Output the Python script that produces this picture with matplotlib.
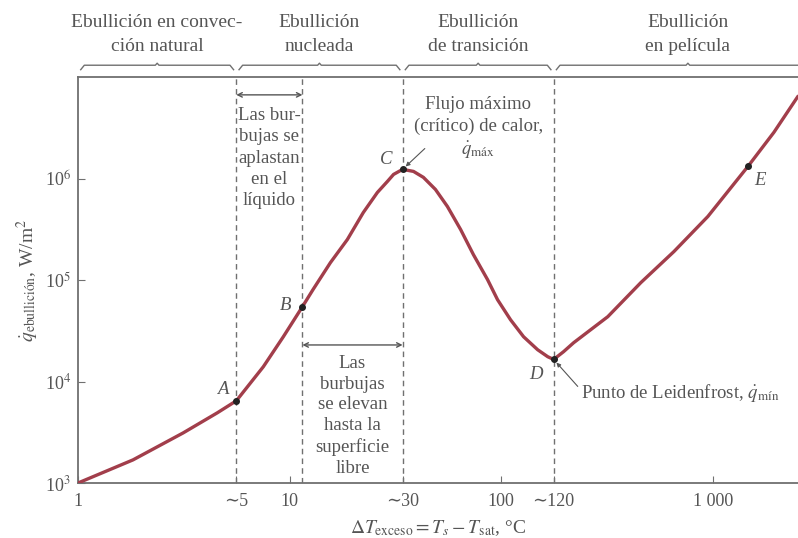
import matplotlib
matplotlib.use("Agg")
import matplotlib.pyplot as plt
from matplotlib.transforms import blended_transform_factory

plt.rcParams['font.family'] = ['Liberation Serif', 'DejaVu Serif']
plt.rcParams['mathtext.fontset'] = 'stix'

# ---- data (boiling curve, log-log) ----
dT = [1.0, 1.82, 3.14, 4.55, 5.6, 7.51, 9.34, 11.5, 12.9, 15.6, 18.75, 22.3,
      26.0, 29.0, 31.0, 34.2, 38.5, 42.9, 48.9, 55.7, 64.3, 73.9, 86.2, 96.1,
      110.7, 127.6, 148.7, 166, 177, 197, 220, 265, 319, 457, 655, 948, 1466,
      1945, 2528]
q = [1000, 1690, 3115, 4910, 6450, 13960, 27600, 54600, 80400, 148500,
     250500, 462000, 729000, 936000, 1.097e6, 1.23e6, 1.175e6, 1.026e6,
     780000, 530000, 314500, 178000, 100900, 64000, 40600, 27600, 20560,
     17540, 16500, 19640, 24100, 32400, 43500, 94200, 190500, 422600,
     1.315e6, 2.85e6, 6.46e6]

point_names = ['A', 'B', 'C', 'D', 'E']
point_dT = [5.6, 11.5, 34.2, 177, 1466]
point_q = [6450, 54600, 1.23e6, 16500, 1.315e6]

x_tick_vals = [1, 5.6, 10, 34.2, 100, 177, 1000]
x_tick_labels = ['1', '∼5', '10', '∼30', '100', '∼120', '1 000']
y_tick_vals = [1e3, 1e4, 1e5, 1e6]
y_tick_labels = ['10$^3$', '10$^4$', '10$^5$', '10$^6$']

region_labels = ['Ebullición en convec-\nción natural', 'Ebullición\nnucleada',
                 'Ebullición\nde transición', 'Ebullición\nen película']
x_min, x_max = 1.0, 2528
y_min, y_max = 1e3, 1e7

TXT = '#555555'
CURVE = '#a23e4b'

fig = plt.figure(figsize=(7.98, 5.38), dpi=100)
ax = fig.add_axes([78/798, 55/538, 720/798, 406/538])
ax.set_xscale('log')
ax.set_yscale('log')
ax.set_xlim(x_min, x_max)
ax.set_ylim(y_min, y_max)

for s in ['left', 'bottom', 'top']:
    ax.spines[s].set_color('#707070')
    ax.spines[s].set_linewidth(1.3)
ax.spines['right'].set_visible(False)

ax.set_xticks(x_tick_vals)
ax.set_xticklabels(x_tick_labels)
ax.set_yticks(y_tick_vals)
ax.set_yticklabels(y_tick_labels)
ax.minorticks_off()
ax.tick_params(axis='both', direction='in', length=5, color='#707070',
               labelsize=13, labelcolor=TXT, pad=5)
ax.tick_params(axis='x', pad=7)

# vertical dashed lines at A, B, C, D
for xv in point_dT[:4]:
    ax.axvline(xv, color='#707070', lw=1.0, ls=(0, (4, 3)), zorder=1)

# curve
ax.plot(dT, q, color=CURVE, lw=2.4, solid_capstyle='round',
        solid_joinstyle='round', zorder=3)
ax.plot(point_dT, point_q, 'o', color='#222222', ms=4, zorder=4)

# point labels
offs = {'A': (-10, 8), 'B': (-12, 1), 'C': (-12, 7), 'D': (-13, -11), 'E': (9, -10)}
for n, xv, yv in zip(point_names, point_dT, point_q):
    ax.annotate(n, (xv, yv), xytext=offs[n], textcoords='offset points',
                ha='center', va='center', fontsize=13.5, style='italic', color=TXT)

# region brackets and labels above the axes
tb = blended_transform_factory(ax.transData, ax.transAxes)
bounds = [x_min] + point_dT[0:1] + point_dT[2:4] + [x_max * 1.3]
for i, lab in enumerate(region_labels):
    x0, x1 = bounds[i], bounds[i + 1]
    xa, xb = x0 * 1.03, x1 / 1.03
    xm = (x0 * x1) ** 0.5
    ax.plot([xa, xa * 1.04, xm / 1.02, xm, xm * 1.02, xb / 1.04, xb],
            [1.018, 1.029, 1.029, 1.034, 1.029, 1.029, 1.018],
            transform=tb, color='#707070', lw=1.0, clip_on=False)
    ax.text(xm, 1.105, lab, transform=tb, ha='center', va='center',
            fontsize=14, color=TXT, linespacing=1.5, multialignment='center')

# double arrows with explanatory texts
A, B, C, D = point_dT[:4]
ax.annotate('', xy=(A, 0.956), xytext=(B, 0.956), xycoords=tb, textcoords=tb,
            arrowprops=dict(arrowstyle='<->', color='#555555', lw=1.0,
                            shrinkA=0, shrinkB=0, mutation_scale=8))
ax.text((A * B) ** 0.5, 0.80, 'Las bur-\nbujas se\naplastan\nen el\nlíquido',
        transform=tb, ha='center', va='center', fontsize=13.5, color=TXT,
        linespacing=1.33, multialignment='center')
ax.annotate('', xy=(B, 0.340), xytext=(C, 0.340), xycoords=tb, textcoords=tb,
            arrowprops=dict(arrowstyle='<->', color='#555555', lw=1.0,
                            shrinkA=0, shrinkB=0, mutation_scale=8))
ax.text((B * C) ** 0.5, 0.165,
        'Las\nburbujas\nse elevan\nhasta la\nsuperficie\nlibre',
        transform=tb, ha='center', va='center', fontsize=13.5, color=TXT,
        linespacing=1.3, multialignment='center')

ax.text((C * D) ** 0.5, 0.873,
        'Flujo máximo\n(crítico) de calor,\n$\\dot{q}_{\\mathrm{máx}}$',
        transform=tb, ha='center', va='center', fontsize=13.5, color=TXT,
        linespacing=1.3, multialignment='center')
ax.annotate('', xy=(point_dT[2], point_q[2]), xytext=(16, 15),
            textcoords='offset points',
            arrowprops=dict(arrowstyle='-|>', color='#555555', lw=0.8,
                            shrinkA=0, shrinkB=3, mutation_scale=6))
ax.annotate('Punto de Leidenfrost, $\\dot{q}_{\\mathrm{mín}}$',
            (point_dT[3], point_q[3]), xytext=(20, -24),
            textcoords='offset points', ha='left', va='center',
            fontsize=13.5, color=TXT,
            arrowprops=dict(arrowstyle='-|>', color='#555555', lw=0.8,
                            shrinkA=1, shrinkB=3, mutation_scale=6,
                            relpos=(0, 0.6)))

ax.set_xlabel('$\\Delta T_{\\mathrm{exceso}} = T_s - T_{\\mathrm{sat}}$, °C',
              fontsize=14, color=TXT, labelpad=6)
ax.set_ylabel('$\\dot{q}_{\\mathrm{ebullición}}$, W/m$^2$', fontsize=14,
              color=TXT, labelpad=3)

fig.savefig('out.png', dpi=100)
